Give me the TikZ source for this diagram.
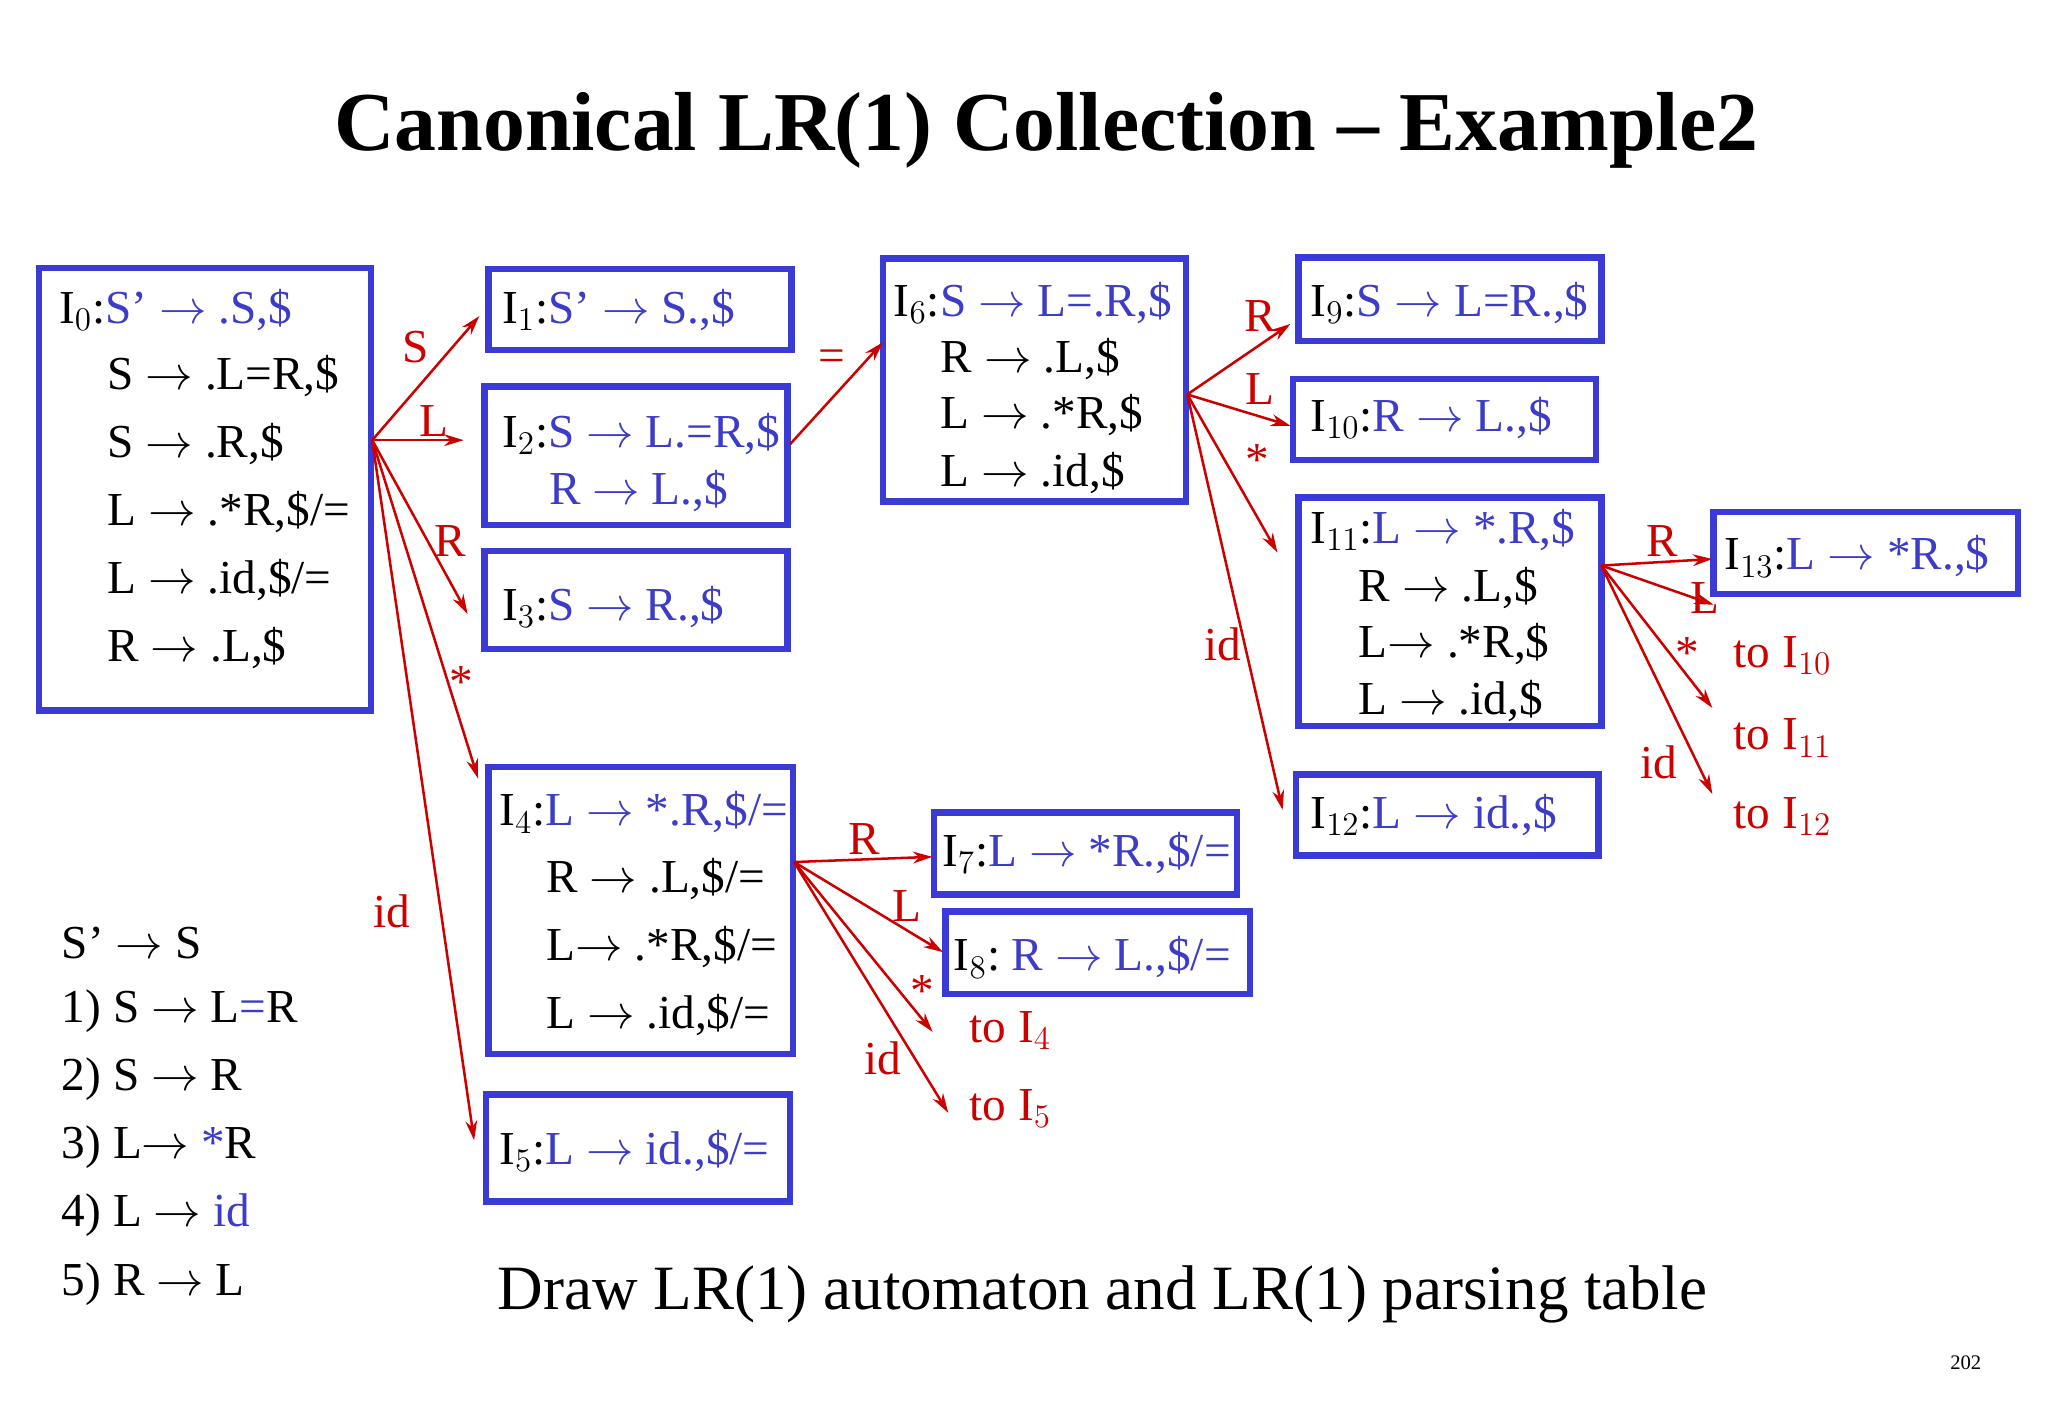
\documentclass[tikz,border=0pt]{standalone}
\usepackage{fontspec}
\setmainfont{Liberation Serif}
\usetikzlibrary{arrows.meta}
\definecolor{bx}{RGB}{58,58,212}
\definecolor{bt}{RGB}{60,60,200}
\definecolor{rd}{RGB}{205,0,0}
\newcommand{\ar}{$\rightarrow$}
\newcommand{\bl}[1]{\textcolor{bt}{#1}}
\begin{document}
\begin{tikzpicture}[x=0.02cm,y=-0.02cm,
  box/.style={draw=bx,line width=2.8pt,inner sep=0pt},
  tx/.style={anchor=west,inner sep=0pt,font=\fontsize{20.6}{24}\selectfont},
  rl/.style={inner sep=0pt,text=rd,font=\fontsize{20.6}{24}\selectfont},
  go/.style={-{Stealth[length=0.3cm,width=0.18cm]},draw=rd,line width=1.1pt}]
\useasboundingbox (0,0) rectangle (1568,1085);
\node[font=\fontsize{36.5}{42}\selectfont\bfseries] (title) at (801,100) {Canonical LR(1) Collection -- Example2};

% boxes
\node[box,minimum width=5.08cm,minimum height=6.78cm] (b0) at (157,374.5) {};
\node[box,minimum width=4.64cm,minimum height=1.24cm] (b1) at (490,237) {};
\node[box,minimum width=4.64cm,minimum height=2.12cm] (b2) at (487,349) {};
\node[box,minimum width=4.64cm,minimum height=1.5cm] (b3) at (487,459.5) {};
\node[box,minimum width=4.66cm,minimum height=4.4cm] (b4) at (490.5,697) {};
\node[box,minimum width=4.66cm,minimum height=1.64cm] (b5) at (488.5,879) {};
\node[box,minimum width=4.64cm,minimum height=3.72cm] (b6) at (792,291) {};
\node[box,minimum width=4.64cm,minimum height=1.26cm] (b7) at (831,653.5) {};
\node[box,minimum width=4.66cm,minimum height=1.26cm] (b8) at (840.5,729.5) {};
\node[box,minimum width=4.64cm,minimum height=1.28cm] (b9) at (1110,229) {};
\node[box,minimum width=4.64cm,minimum height=1.24cm] (b10) at (1106,321) {};
\node[box,minimum width=4.64cm,minimum height=3.5cm] (b11) at (1110,468.5) {};
\node[box,minimum width=4.64cm,minimum height=1.24cm] (b12) at (1108,624) {};
\node[box,minimum width=4.66cm,minimum height=1.26cm] (b13) at (1428.5,423.5) {};

% box texts
\node[tx] (t0a) at (45,237) {I$_0$:\bl{S’ \ar{} .S,\$}};
\node[tx] (t0b) at (82,288) {S \ar{} .L=R,\$};
\node[tx] (t0c) at (82,340) {S \ar{} .R,\$};
\node[tx] (t0d) at (82,392) {L \ar{} .*R,\$/=};
\node[tx] (t0e) at (82,444) {L \ar{} .id,\$/=};
\node[tx] (t0f) at (82,496) {R \ar{} .L,\$};
\node[tx] (t1) at (384,237) {I$_1$:\bl{S’ \ar{} S.,\$}};
\node[tx] (t2a) at (384,332) {I$_2$:\bl{S \ar{} L.=R,\$}};
\node[tx] (t2b) at (420,376) {\bl{R \ar{} L.,\$}};
\node[tx] (t3) at (384,465) {I$_3$:\bl{S \ar{} R.,\$}};
\node[tx] (t4a) at (382,622) {I$_4$:\bl{L \ar{} *.R,\$/=}};
\node[tx] (t4b) at (418,673) {R \ar{} .L,\$/=};
\node[tx] (t4c) at (418,725) {L\ar{} .*R,\$/=};
\node[tx] (t4d) at (418,777) {L \ar{} .id,\$/=};
\node[tx] (t5) at (382,881) {I$_5$:\bl{L \ar{} id.,\$/=}};
\node[tx] (t6a) at (684,232) {I$_6$:\bl{S \ar{} L=.R,\$}};
\node[tx] (t6b) at (720,275) {R \ar{} .L,\$};
\node[tx] (t6c) at (720,318) {L \ar{} .*R,\$};
\node[tx] (t6d) at (720,362) {L \ar{} .id,\$};
\node[tx] (t7) at (721,653) {I$_7$:\bl{L \ar{} *R.,\$/=}};
\node[tx] (t8) at (730,733) {I$_8$:\ \bl{R \ar{} L.,\$/=}};
\node[tx] (t9) at (1003,232) {I$_9$:\bl{S \ar{} L=R.,\$}};
\node[tx] (t10) at (1003,320) {I$_{10}$:\bl{R \ar{} L.,\$}};
\node[tx] (t11a) at (1003,406) {I$_{11}$:\bl{L \ar{} *.R,\$}};
\node[tx] (t11b) at (1040,450) {R \ar{} .L,\$};
\node[tx] (t11c) at (1040,493) {L\ar{} .*R,\$};
\node[tx] (t11d) at (1040,537) {L \ar{} .id,\$};
\node[tx] (t12) at (1003,624) {I$_{12}$:\bl{L \ar{} id.,\$}};
\node[tx] (t13) at (1320,426) {I$_{13}$:\bl{L \ar{} *R.,\$}};

% connector ends
\coordinate (s0) at (285,337);
\coordinate (e0S) at (367,242);
\coordinate (e0L) at (355,337);
\coordinate (e0R) at (358,470);
\coordinate (e0st) at (366,596);
\coordinate (e0id) at (363,873);
\coordinate (s2) at (605,340);
\coordinate (e2) at (676,262);
\coordinate (s6) at (909,302);
\coordinate (e6R) at (988,248);
\coordinate (e6L) at (988,326);
\coordinate (e6st) at (978,423);
\coordinate (e6id) at (982,620);
\coordinate (s11) at (1226,433);
\coordinate (e11R) at (1311,428);
\coordinate (e11L) at (1312,463);
\coordinate (e11st) at (1311,542);
\coordinate (e11id) at (1311,608);
\coordinate (s4) at (608,660);
\coordinate (e4R) at (714,656);
\coordinate (e4L) at (722,729);
\coordinate (e4st) at (714,790);
\coordinate (e4id) at (726,852);

\draw[go] (s0) -- (e0S);
\draw[go] (s0) -- (e0L);
\draw[go] (s0) -- (e0R);
\draw[go] (s0) -- (e0st);
\draw[go] (s0) -- (e0id);
\draw[go] (s2) -- (e2);
\draw[go] (s6) -- (e6R);
\draw[go] (s6) -- (e6L);
\draw[go] (s6) -- (e6st);
\draw[go] (s6) -- (e6id);
\draw[go] (s11) -- (e11R);
\draw[go] (s11) -- (e11L);
\draw[go] (s11) -- (e11st);
\draw[go] (s11) -- (e11id);
\draw[go] (s4) -- (e4R);
\draw[go] (s4) -- (e4L);
\draw[go] (s4) -- (e4st);
\draw[go] (s4) -- (e4id);

% labels
\node[rl] (l0S) at (318,266) {S};
\node[rl] (l0L) at (332,322) {L};
\node[rl] (l0R) at (345,414) {R};
\node[rl] (l0st) at (353,522) {*};
\node[rl] (l0id) at (300,698) {id};
\node[rl] (l2) at (637,276) {=};
\node[rl] (l6R) at (965,242) {R};
\node[rl] (l6L) at (965,298) {L};
\node[rl] (l6st) at (963,352) {*};
\node[rl] (l6id) at (936,493) {id};
\node[rl] (l11R) at (1273,414) {R};
\node[rl] (l11L) at (1305,458) {L};
\node[rl] (l11st) at (1292,500) {*};
\node[rl] (l11id) at (1270,584) {id};
\node[rl] (l4R) at (662,642) {R};
\node[rl] (l4L) at (694,694) {L};
\node[rl] (l4st) at (706,759) {*};
\node[rl] (l4id) at (676,810) {id};
\node[rl,anchor=west] (to10) at (1327,502) {to I$_{10}$};
\node[rl,anchor=west] (to11) at (1327,565) {to I$_{11}$};
\node[rl,anchor=west] (to12) at (1327,625) {to I$_{12}$};
\node[rl,anchor=west] (to4) at (742,789) {to I$_{4}$};
\node[rl,anchor=west] (to5) at (742,849) {to I$_{5}$};

% grammar
\node[tx] (g0) at (47,722) {S’ \ar{} S};
\node[tx] (g1) at (47,774) {1) S \ar{} L\bl{=}R};
\node[tx] (g2) at (47,826) {2) S \ar{} R};
\node[tx] (g3) at (47,878) {3) L\ar{} \bl{*}R};
\node[tx] (g4) at (47,930) {4) L \ar{} \bl{id}};
\node[tx] (g5) at (47,983) {5) R \ar{} L};

\node[font=\fontsize{27.5}{32}\selectfont] (task) at (844,991) {Draw LR(1) automaton and LR(1) parsing table};
\node[font=\fontsize{9}{10}\selectfont] (pg) at (1505,1043) {202};
\end{tikzpicture}
\end{document}
